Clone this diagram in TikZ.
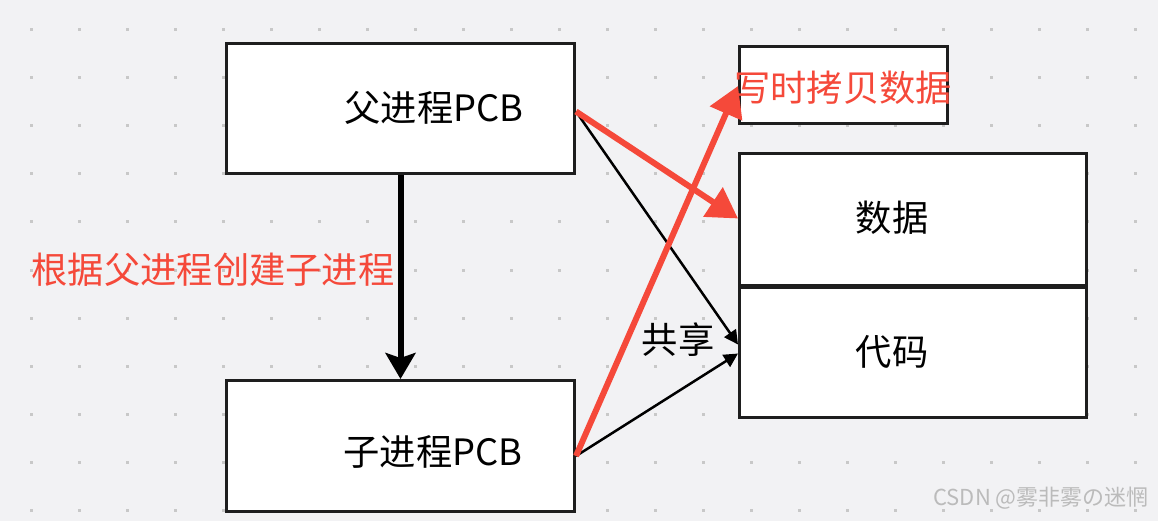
\documentclass[tikz,border=0pt]{standalone}
\usepackage{fontspec}
\setmainfont{Noto Sans CJK SC}
\usetikzlibrary{arrows.meta,calc}
\definecolor{bgc}{HTML}{F2F2F4}
\definecolor{dotc}{HTML}{C8C8C8}
\definecolor{redc}{HTML}{F5493A}
\definecolor{edgec}{HTML}{1E1E1E}
\definecolor{wmc}{HTML}{BBBBBB}
\newcommand\bigtxt{\fontsize{36.3}{42}\selectfont}
\begin{document}
\begin{tikzpicture}[x=1pt,y=-1pt,
  box/.style={draw=edgec,line width=3pt,fill=white,inner sep=0pt,anchor=north west},
  txt/.style={inner sep=0pt,font=\bigtxt,text=black},
  redtxt/.style={inner sep=0pt,font=\bigtxt,text=redc},
  redarrow/.style={draw=redc,line width=6pt,-{Triangle[length=30pt,width=34pt]}},
  thinarrow/.style={draw=black,line width=2.5pt,-{Triangle[length=14pt,width=14pt]}},
  thickarrow/.style={draw=black,line width=6pt,-{Stealth[length=26pt,width=30pt,inset=5pt]}}]
\fill[bgc] (0,0) rectangle (1158,521);
\useasboundingbox (0,0) rectangle (1158,521);
\foreach \gx in {31,79,...,1158}
  \foreach \gy in {30,78,...,521}
    \fill[dotc] (\gx-1.5,\gy-1.5) rectangle (\gx+1.5,\gy+1.5);
% boxes
\node[box,minimum width=348pt,minimum height=130pt] (parent) at (225,42) {};
\node[box,minimum width=348pt,minimum height=131pt] (child) at (225,379) {};
\node[box,minimum width=208pt,minimum height=77pt] (copy) at (738,45) {};
\node[box,minimum width=347pt,minimum height=132pt] (data) at (738,152) {};
\node[box,minimum width=347pt,minimum height=130pt] (code) at (738,286) {};
% texts
\node[txt] (parenttxt) at (434,108) {父进程PCB};
\node[txt] (childtxt) at (433,452) {子进程PCB};
\node[txt] (datatxt) at (892,218) {数据};
\node[txt] (codetxt) at (892,352) {代码};
\node[txt] (sharetxt) at (678,340) {共享};
\node[redtxt] (createtxt) at (213,270) {根据父进程创建子进程};
% arrows
\draw[thickarrow] (parent.south) -- (child.north);
\draw[thinarrow] ([yshift=-3pt]parent.east) -- ([yshift=8pt]code.west);
\draw[thinarrow] ([yshift=-10pt]child.east) -- ([yshift=-1pt]code.west);
\draw[redarrow] ([yshift=-3pt]parent.east) -- ([yshift=1pt]data.west);
\draw[redarrow] ([yshift=-10pt]child.east) -- ([yshift=-1pt]copy.west);
\node[redtxt] (copytxt) at (843,88) {写时拷贝数据};
\node[inner sep=0pt,font=\fontsize{22}{26}\selectfont,text=wmc] (wm) at (1041,498) {CSDN @雾非雾の迷惘};
\end{tikzpicture}
\end{document}
